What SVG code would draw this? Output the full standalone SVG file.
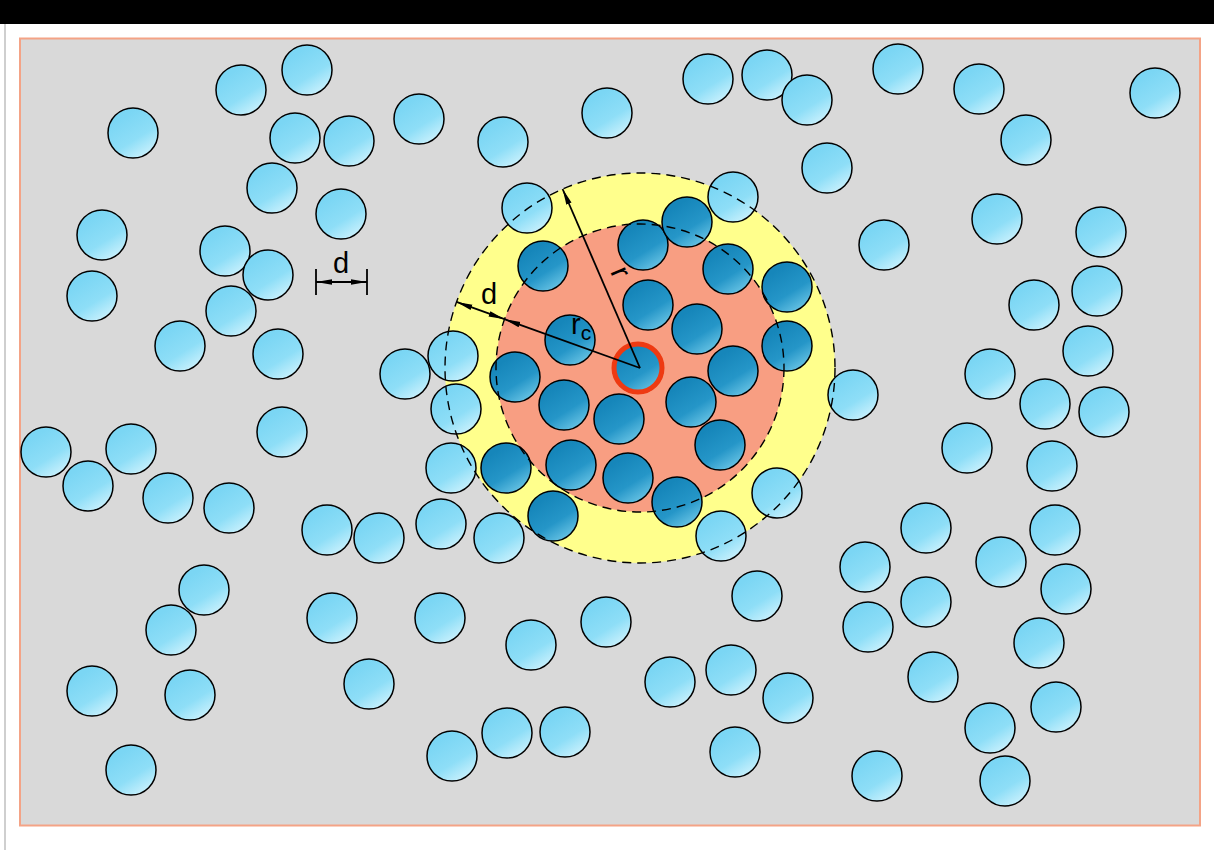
<svg xmlns="http://www.w3.org/2000/svg" width="1214" height="850" viewBox="0 0 1214 850">
<defs>
<linearGradient id="gl" x1="0.25" y1="0.2" x2="0.75" y2="1">
<stop offset="0" stop-color="#7bd6f4"/>
<stop offset="0.55" stop-color="#8edef7"/>
<stop offset="1" stop-color="#cdf2fd"/>
</linearGradient>
<linearGradient id="gd" x1="0.25" y1="0.2" x2="0.75" y2="1">
<stop offset="0" stop-color="#1686ba"/>
<stop offset="0.55" stop-color="#2596c8"/>
<stop offset="1" stop-color="#6cc6e6"/>
</linearGradient>
<marker id="ah" viewBox="0 0 16 8" refX="16" refY="4" markerWidth="16" markerHeight="8" markerUnits="userSpaceOnUse" orient="auto-start-reverse">
<path d="M0,1.2 L16,4 L0,6.8 Z" fill="#000"/>
</marker>
<style>
.l{fill:url(#gl);stroke:#000;stroke-width:1.5}
.d{fill:url(#gd);stroke:#000;stroke-width:1.5}
.ds{fill:none;stroke:#000;stroke-width:1.4;stroke-dasharray:9 6}
.ln{stroke:#000;stroke-width:1.8;fill:none}
.t{font-family:"Liberation Sans",Arial,sans-serif;fill:#000}
</style>
</defs>
<rect x="0" y="0" width="1214" height="850" fill="#fff"/>
<rect x="0" y="0" width="1214" height="24" fill="#000"/>
<rect x="4" y="24" width="2" height="826" fill="#cfcfcf"/>
<rect id="frame" x="20" y="38.5" width="1180" height="787" fill="#d9d9d9" stroke="#f4a386" stroke-width="2"/>
<g id="zones">
<circle cx="640" cy="368" r="195" fill="#ffff8c"/>
<circle cx="640" cy="368" r="144" fill="#f89e82"/>
</g>
<g id="outer-particles">
<circle class="l" cx="307" cy="70" r="25"/>
<circle class="l" cx="241" cy="90" r="25"/>
<circle class="l" cx="133" cy="133" r="25"/>
<circle class="l" cx="295" cy="138" r="25"/>
<circle class="l" cx="349" cy="141" r="25"/>
<circle class="l" cx="419" cy="119" r="25"/>
<circle class="l" cx="503" cy="142" r="25"/>
<circle class="l" cx="607" cy="113" r="25"/>
<circle class="l" cx="708" cy="79" r="25"/>
<circle class="l" cx="767" cy="75" r="25"/>
<circle class="l" cx="807" cy="100" r="25"/>
<circle class="l" cx="898" cy="69" r="25"/>
<circle class="l" cx="979" cy="89" r="25"/>
<circle class="l" cx="1155" cy="93" r="25"/>
<circle class="l" cx="1026" cy="140" r="25"/>
<circle class="l" cx="827" cy="168" r="25"/>
<circle class="l" cx="272" cy="188" r="25"/>
<circle class="l" cx="341" cy="214" r="25"/>
<circle class="l" cx="102" cy="235" r="25"/>
<circle class="l" cx="225" cy="251" r="25"/>
<circle class="l" cx="268" cy="275" r="25"/>
<circle class="l" cx="92" cy="296" r="25"/>
<circle class="l" cx="231" cy="311" r="25"/>
<circle class="l" cx="180" cy="346" r="25"/>
<circle class="l" cx="278" cy="354" r="25"/>
<circle class="l" cx="997" cy="219" r="25"/>
<circle class="l" cx="1101" cy="232" r="25"/>
<circle class="l" cx="884" cy="245" r="25"/>
<circle class="l" cx="1034" cy="305" r="25"/>
<circle class="l" cx="1097" cy="291" r="25"/>
<circle class="l" cx="1088" cy="351" r="25"/>
<circle class="l" cx="990" cy="374" r="25"/>
<circle class="l" cx="1045" cy="404" r="25"/>
<circle class="l" cx="1104" cy="412" r="25"/>
<circle class="l" cx="853" cy="395" r="25"/>
<circle class="l" cx="967" cy="448" r="25"/>
<circle class="l" cx="1052" cy="466" r="25"/>
<circle class="l" cx="282" cy="432" r="25"/>
<circle class="l" cx="46" cy="452" r="25"/>
<circle class="l" cx="131" cy="449" r="25"/>
<circle class="l" cx="88" cy="486" r="25"/>
<circle class="l" cx="168" cy="498" r="25"/>
<circle class="l" cx="229" cy="508" r="25"/>
<circle class="l" cx="405" cy="374" r="25"/>
<circle class="l" cx="453" cy="356" r="25"/>
<circle class="l" cx="456" cy="409" r="25"/>
<circle class="l" cx="451" cy="468" r="25"/>
<circle class="l" cx="527" cy="208" r="25"/>
<circle class="l" cx="733" cy="197" r="25"/>
<circle class="l" cx="777" cy="493" r="25"/>
<circle class="l" cx="721" cy="536" r="25"/>
<circle class="l" cx="441" cy="524" r="25"/>
<circle class="l" cx="499" cy="538" r="25"/>
<circle class="l" cx="379" cy="538" r="25"/>
<circle class="l" cx="327" cy="530" r="25"/>
<circle class="l" cx="926" cy="528" r="25"/>
<circle class="l" cx="1055" cy="530" r="25"/>
<circle class="l" cx="1001" cy="562" r="25"/>
<circle class="l" cx="865" cy="567" r="25"/>
<circle class="l" cx="1066" cy="589" r="25"/>
<circle class="l" cx="926" cy="602" r="25"/>
<circle class="l" cx="868" cy="627" r="25"/>
<circle class="l" cx="757" cy="596" r="25"/>
<circle class="l" cx="204" cy="590" r="25"/>
<circle class="l" cx="171" cy="630" r="25"/>
<circle class="l" cx="332" cy="618" r="25"/>
<circle class="l" cx="440" cy="618" r="25"/>
<circle class="l" cx="606" cy="622" r="25"/>
<circle class="l" cx="531" cy="645" r="25"/>
<circle class="l" cx="1039" cy="643" r="25"/>
<circle class="l" cx="369" cy="684" r="25"/>
<circle class="l" cx="92" cy="691" r="25"/>
<circle class="l" cx="190" cy="695" r="25"/>
<circle class="l" cx="670" cy="682" r="25"/>
<circle class="l" cx="731" cy="670" r="25"/>
<circle class="l" cx="788" cy="698" r="25"/>
<circle class="l" cx="933" cy="677" r="25"/>
<circle class="l" cx="1056" cy="707" r="25"/>
<circle class="l" cx="990" cy="728" r="25"/>
<circle class="l" cx="507" cy="733" r="25"/>
<circle class="l" cx="565" cy="732" r="25"/>
<circle class="l" cx="452" cy="756" r="25"/>
<circle class="l" cx="735" cy="752" r="25"/>
<circle class="l" cx="131" cy="770" r="25"/>
<circle class="l" cx="877" cy="776" r="25"/>
<circle class="l" cx="1005" cy="781" r="25"/>
</g>
<g id="inner-particles">
<circle class="d" cx="643" cy="245" r="25"/>
<circle class="d" cx="687" cy="222" r="25"/>
<circle class="d" cx="543" cy="266" r="25"/>
<circle class="d" cx="728" cy="269" r="25"/>
<circle class="d" cx="787" cy="287" r="25"/>
<circle class="d" cx="648" cy="305" r="25"/>
<circle class="d" cx="697" cy="329" r="25"/>
<circle class="d" cx="570" cy="340" r="25"/>
<circle class="d" cx="787" cy="346" r="25"/>
<circle class="d" cx="638" cy="368" r="25"/>
<circle class="d" cx="733" cy="371" r="25"/>
<circle class="d" cx="515" cy="377" r="25"/>
<circle class="d" cx="564" cy="405" r="25"/>
<circle class="d" cx="619" cy="419" r="25"/>
<circle class="d" cx="691" cy="402" r="25"/>
<circle class="d" cx="720" cy="445" r="25"/>
<circle class="d" cx="506" cy="468" r="25"/>
<circle class="d" cx="571" cy="465" r="25"/>
<circle class="d" cx="628" cy="478" r="25"/>
<circle class="d" cx="677" cy="502" r="25"/>
<circle class="d" cx="553" cy="516" r="25"/>
</g>
<g id="boundaries">
<circle class="ds" cx="640" cy="368" r="195"/>
<circle class="ds" cx="640" cy="368" r="144"/>
</g>
<g id="center-particle">
<circle cx="638" cy="368" r="24" fill="none" stroke="#ee3a12" stroke-width="5"/>
</g>
<g id="connectors">
<line class="ln" x1="640" y1="368" x2="562.6" y2="189" marker-end="url(#ah)"/>
<line class="ln" x1="640" y1="368" x2="504.5" y2="319.2" marker-end="url(#ah)"/>
<line class="ln" x1="504.5" y1="319.2" x2="456.5" y2="301.9" marker-start="url(#ah)" marker-end="url(#ah)"/>
<line class="ln" x1="316" y1="282" x2="367" y2="282" marker-start="url(#ah)" marker-end="url(#ah)"/>
<line class="ln" x1="316" y1="269" x2="316" y2="295"/>
<line class="ln" x1="367" y1="269" x2="367" y2="295"/>
</g>
<g id="labels">
<text class="t" x="341" y="273" font-size="29" text-anchor="middle">d</text>
<text class="t" x="489" y="304" font-size="29" text-anchor="middle">d</text>
<text class="t" x="612" y="276" font-size="29" text-anchor="middle" transform="rotate(66.6 612 276)">r</text>
<text class="t" x="571" y="334" font-size="29">r<tspan font-size="21" dy="6">c</tspan></text>
</g>
</svg>
